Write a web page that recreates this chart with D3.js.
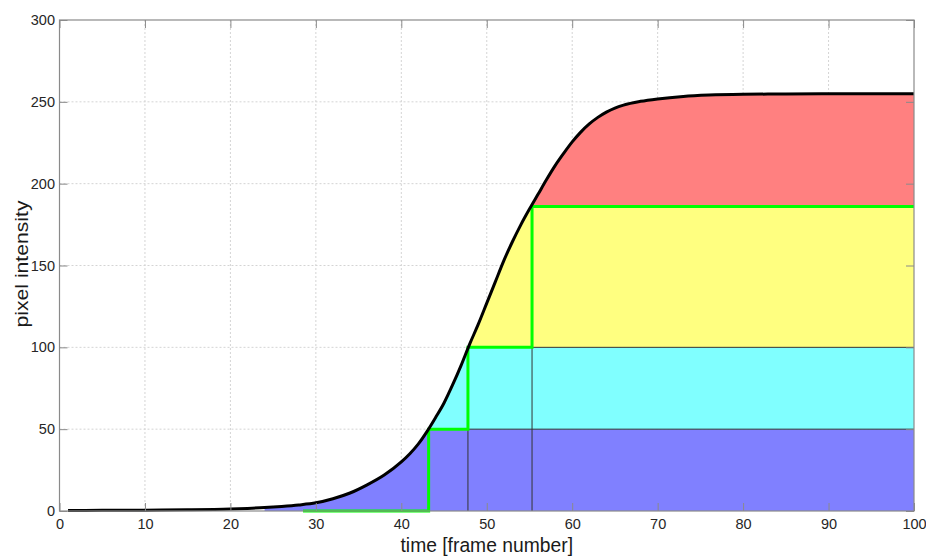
<!DOCTYPE html>
<html>
<head>
<meta charset="utf-8">
<script src="https://cdn.jsdelivr.net/npm/d3@7"></script>
<style>
  body { margin: 0; background: #fff; }
  svg text { font-family: "Liberation Sans", Arial, sans-serif; }
</style>
</head>
<body>
<div id="chart"></div>
<script>
// Intensity curve (frame -> pixel intensity)
const frames    = [1, 5, 10, 15, 20, 22, 24, 26, 28, 30, 32, 34, 36, 38, 40, 41, 42, 43, 44, 45, 46, 47, 48, 49, 50,
                   51, 52, 53, 54, 55, 56, 57, 58, 59, 60, 61, 62, 63, 64, 65, 66, 68, 70, 73, 76, 80, 85, 90, 100];
const intensity = [0.3, 0.4, 0.5, 0.7, 1.2, 1.6, 2.1, 2.8, 3.7, 5.0, 7.5, 11, 16, 22, 30, 35, 41, 48.5, 57, 66, 77, 89, 102, 114, 127,
                   140, 153, 164.5, 175, 184.5, 193.5, 202.5, 211, 218.5, 225.5, 231.5, 236.5, 240.5, 243.7, 246.2, 248, 250.3, 251.8, 253.3, 254.1, 254.6, 254.8, 255, 255];

// Quantisation bands (lower/upper level) and their colours
const levels     = [0, 50, 100, 186, 300];
const bandColors = ["#8080ff", "#80ffff", "#ffff80", "#ff8080"];

// Green staircase: the frame where each level is reached
const stepTimes  = [28.5, 43.2, 47.8, 55.3, 100];
const stepLevels = [0, 50, 100, 186, 186];
const fillStart  = 24;

const xTicks = [0, 10, 20, 30, 40, 50, 60, 70, 80, 90, 100];
const yTicks = [0, 50, 100, 150, 200, 250, 300];

(function () {
  const W = 926, H = 556;
  const margin = { top: 20, right: 12, bottom: 45, left: 59.5 };
  const w = W - margin.left - margin.right;
  const h = H - margin.top - margin.bottom;

  const svg = d3.select("#chart").append("svg")
    .attr("width", W).attr("height", H);

  const g = svg.append("g").attr("transform", `translate(${margin.left},${margin.top})`);

  const x = d3.scaleLinear().domain([0, 100]).range([0, w]);
  const y = d3.scaleLinear().domain([0, 300]).range([h, 0]);

  const pts = frames.map((f, i) => [f, intensity[i]]);

  // Grid
  g.append("g").selectAll("line").data(xTicks.slice(1, -1)).enter().append("line")
    .attr("x1", d => x(d)).attr("x2", d => x(d)).attr("y1", 0).attr("y2", h)
    .attr("stroke", "#d4d4d4").attr("stroke-dasharray", "2,2");
  g.append("g").selectAll("line").data(yTicks.slice(1, -1)).enter().append("line")
    .attr("x1", 0).attr("x2", w).attr("y1", d => y(d)).attr("y2", d => y(d))
    .attr("stroke", "#d4d4d4").attr("stroke-dasharray", "2,2");

  // Area under the curve used as clip for the bands
  const under = d3.area()
    .x(d => x(d[0])).y0(y(0)).y1(d => y(d[1]))
    .curve(d3.curveMonotoneX);
  svg.append("defs").append("clipPath").attr("id", "under")
    .append("path").attr("d", under(pts.filter(d => d[0] >= fillStart - 2)));

  const bands = g.append("g").attr("clip-path", "url(#under)");
  bandColors.forEach((c, i) => {
    bands.append("rect")
      .attr("x", x(fillStart)).attr("width", x(100) - x(fillStart))
      .attr("y", y(levels[i + 1])).attr("height", y(levels[i]) - y(levels[i + 1]))
      .attr("fill", c);
  });

  // Band boundary lines
  const edges = g.append("g").attr("stroke", "#333").attr("stroke-width", 1);
  for (let i = 1; i <= 2; i++) {
    edges.append("line")
      .attr("x1", x(stepTimes[i])).attr("x2", x(100))
      .attr("y1", y(levels[i])).attr("y2", y(levels[i]));
  }
  for (let i = 2; i <= 3; i++) {
    edges.append("line")
      .attr("x1", x(stepTimes[i])).attr("x2", x(stepTimes[i]))
      .attr("y1", y(0)).attr("y2", y(levels[i - 1]));
  }

  // Green staircase
  const step = d3.line().x(d => x(d[0])).y(d => y(d[1])).curve(d3.curveStepAfter);
  g.append("path")
    .attr("d", step(stepTimes.map((t, i) => [t, stepLevels[i]])))
    .attr("fill", "none").attr("stroke", "#00ff00").attr("stroke-width", 3);

  // Intensity curve
  const line = d3.line().x(d => x(d[0])).y(d => y(d[1])).curve(d3.curveMonotoneX);
  g.append("path").attr("d", line(pts))
    .attr("fill", "none").attr("stroke", "#000").attr("stroke-width", 3);

  // Axes (ticks inside, box on)
  const axisColor = "#8a8a8a";
  const styleAxis = sel => {
    sel.select(".domain").remove();
    sel.selectAll("line").attr("stroke", axisColor);
    sel.selectAll("text").style("font-size", "14.5px").attr("fill", "#262626");
  };
  g.append("g").attr("transform", `translate(0,${h})`)
    .call(d3.axisBottom(x).tickValues(xTicks).tickSize(-8).tickPadding(8))
    .call(styleAxis);
  g.append("g")
    .call(d3.axisLeft(y).tickValues(yTicks).tickSize(-8).tickPadding(4.5))
    .call(styleAxis);
  g.append("g")
    .call(d3.axisTop(x).tickValues(xTicks).tickSize(-8).tickFormat(""))
    .call(styleAxis);
  g.append("g").attr("transform", `translate(${w},0)`)
    .call(d3.axisRight(y).tickValues(yTicks).tickSize(-8).tickFormat(""))
    .call(styleAxis);

  g.append("rect").attr("width", w).attr("height", h)
    .attr("fill", "none").attr("stroke", axisColor).attr("stroke-width", 1.2);

  // Axis titles
  svg.append("text").attr("x", margin.left + w / 2).attr("y", 552)
    .attr("text-anchor", "middle").style("font-size", "19.3px").attr("fill", "#1a1a1a")
    .text("time [frame number]");
  svg.append("text").attr("transform", `translate(28,264) rotate(-90)`)
    .attr("text-anchor", "middle")
    .attr("textLength", 127).attr("lengthAdjust", "spacingAndGlyphs")
    .style("font-size", "17.5px").attr("fill", "#1a1a1a")
    .text("pixel intensity");
})();
</script>
</body>
</html>
